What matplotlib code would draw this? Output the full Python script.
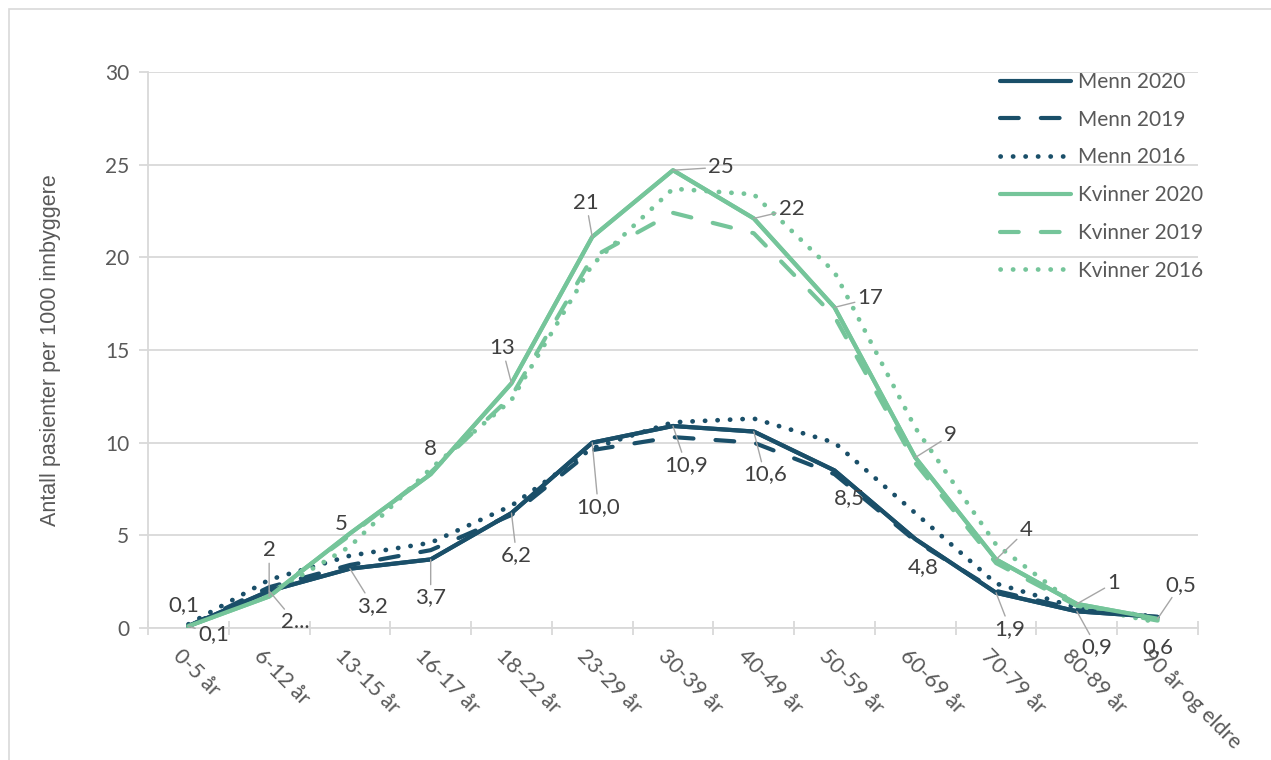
import matplotlib
matplotlib.use("Agg")
import matplotlib.pyplot as plt
import matplotlib.transforms as mtransforms
from matplotlib.patches import Rectangle

plt.rcParams["font.family"] = ["Lato", "DejaVu Sans"]

# --- data --------------------------------------------------------------
categories = ["0-5 år", "6-12 år", "13-15 år", "16-17 år", "18-22 år", "23-29 år",
              "30-39 år", "40-49 år", "50-59 år", "60-69 år", "70-79 år", "80-89 år",
              "90 år og eldre"]

menn_2020 = [0.1, 2.0, 3.2, 3.7, 6.2, 10.0, 10.9, 10.6, 8.5, 4.8, 1.9, 0.9, 0.6]
menn_2019 = [0.1, 2.2, 3.4, 4.2, 6.1, 9.6, 10.3, 10.0, 8.3, 4.7, 2.0, 1.0, 0.6]
menn_2016 = [0.2, 2.6, 3.9, 4.6, 6.6, 9.7, 11.1, 11.3, 10.0, 6.2, 2.4, 1.1, 0.6]
kvinner_2020 = [0.1, 1.7, 5.1, 8.3, 13.2, 21.1, 24.7, 22.1, 17.3, 9.2, 3.7, 1.3, 0.5]
kvinner_2019 = [0.1, 1.8, 5.0, 8.4, 12.5, 20.0, 22.4, 21.3, 16.8, 8.9, 3.5, 1.2, 0.4]
kvinner_2016 = [0.1, 1.8, 4.4, 8.6, 12.3, 19.6, 23.7, 23.4, 19.2, 10.8, 4.5, 1.2, 0.3]

menn_labels = ["0,1", "2...", "3,2", "3,7", "6,2", "10,0", "10,9", "10,6", "8,5",
               "4,8", "1,9", "0,9", "0,6"]
kvinner_labels = ["0,1", "2", "5", "8", "13", "21", "25", "22", "17", "9", "4", "1", "0,5"]

# label offsets in pixels (dx, dy up) and whether a leader line is drawn
kvinner_offsets = [(-5, 21), (0, 46), (-9, 9), (0, 25), (-9, 35), (-6, 34), (48, 3),
                   (38, 9), (36, 9), (35, 22), (30, 29), (37, 21), (23, 34)]
kvinner_leader = [False, True, False, False, True, True, True, True, True, True, True, True, True]
menn_offsets = [(25, -8), (26, -31), (23, -37), (0, -38), (5, -42), (6, -64), (13, -39),
                (11, -43), (15, -28), (8, -28), (14, -36), (20, -36), (0, -30)]
menn_leader = [True, True, True, True, True, True, True, True, False, False, True, True, False]

DARK = "#1a4f69"
GREEN = "#75c59a"
GRID = "#d9d9d9"
TXT = "#404040"
TICK = "#595959"

W, H = 1271, 760
fig = plt.figure(figsize=(W / 100, H / 100), dpi=100)
fig.patches.append(Rectangle((9 / W, -0.1), 1.2, 1 - 9 / H + 0.1, transform=fig.transFigure,
                             fill=False, edgecolor=GRID, linewidth=1.2))

ax = fig.add_axes([148 / W, 1 - 628 / H, 1050 / W, 556 / H])
x = list(range(len(categories)))

dash = (0, (4.5, 5.3))
dot = (0, (0.05, 2.6))
series = [
    ("Menn 2020", menn_2020, DARK, "-", 3.0),
    ("Menn 2019", menn_2019, DARK, dash, 3.0),
    ("Menn 2016", menn_2016, DARK, dot, 3.4),
    ("Kvinner 2020", kvinner_2020, GREEN, "-", 3.0),
    ("Kvinner 2019", kvinner_2019, GREEN, dash, 3.0),
    ("Kvinner 2016", kvinner_2016, GREEN, dot, 3.4),
]
handles = []
for name, vals, col, ls, lw in series:
    h, = ax.plot(x, vals, color=col, linestyle=ls, linewidth=lw, label=name,
                 dash_capstyle="round", solid_capstyle="round", solid_joinstyle="round",
                 zorder=3)
    handles.append(h)

# redraw the 2020 lines on top
ax.plot(x, menn_2020, color=DARK, linewidth=3.0, solid_capstyle="round", zorder=4)
ax.plot(x, kvinner_2020, color=GREEN, linewidth=3.0, solid_capstyle="round", zorder=4)

ax.set_xlim(-0.5, len(categories) - 0.5)
ax.set_ylim(0, 30)
ax.set_yticks(range(0, 31, 5))
ax.grid(axis="y", color=GRID, linewidth=1.3)
ax.set_axisbelow(True)
for s in ["top", "right"]:
    ax.spines[s].set_visible(False)
ax.spines["left"].set_color(GRID)
ax.spines["bottom"].set_color(GRID)
ax.spines["left"].set_linewidth(1.3)
ax.spines["bottom"].set_linewidth(1.3)

ax.tick_params(axis="y", colors=GRID, labelcolor=TICK, labelsize=15, length=6.5,
               width=1.3, pad=7)
ax.set_xticks(x)
ax.set_xticks([i - 0.5 for i in range(len(categories) + 1)], minor=True)
ax.tick_params(axis="x", which="major", length=0, pad=13)
ax.tick_params(axis="x", which="minor", direction="inout", length=10, width=1.3, colors=GRID)
ax.set_xticklabels(categories, rotation=-45, ha="left", va="top", rotation_mode="anchor",
                   fontsize=15.5, color=TICK)
shift = mtransforms.ScaledTranslation(-5 / 100, 0, fig.dpi_scale_trans)
for lab in ax.get_xticklabels():
    lab.set_transform(lab.get_transform() + shift)

ax.set_ylabel("Antall pasienter per 1000 innbyggere", fontsize=15.5, color=TICK,
              family=["Liberation Sans Narrow", "Liberation Sans", "DejaVu Sans"])
ax.yaxis.set_label_coords(-0.083, 0.5)

# data labels
def add_labels(vals, labels, offsets, leaders):
    for i, (v, t, off, lead) in enumerate(zip(vals, labels, offsets, leaders)):
        kw = {}
        if lead:
            kw["arrowprops"] = dict(arrowstyle="-", color="#a6a6a6", lw=1.0,
                                    shrinkA=0, shrinkB=0)
        ax.annotate(t, xy=(i, v), xytext=off, textcoords="offset pixels",
                    ha="center", va="center", fontsize=16, color=TXT, zorder=5, **kw)

add_labels(kvinner_2020, kvinner_labels, kvinner_offsets, kvinner_leader)
add_labels(menn_2020, menn_labels, menn_offsets, menn_leader)

leg = ax.legend(handles=handles, loc="upper left",
                bbox_to_anchor=(1000 / W, 1 - 72 / H), bbox_transform=fig.transFigure,
                frameon=False, fontsize=15, handlelength=3.4, handletextpad=0.35,
                labelspacing=0.85, borderpad=0, borderaxespad=0)
for t in leg.get_texts():
    t.set_color(TICK)

fig.savefig("out.png", dpi=100)
